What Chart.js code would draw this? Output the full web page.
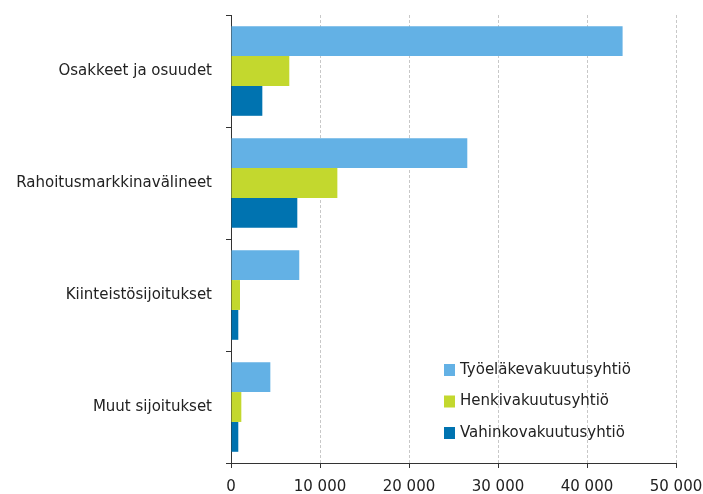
<!DOCTYPE html>
<html>
<head>
<meta charset="utf-8">
<script src="https://cdn.jsdelivr.net/npm/chart.js"></script>
<style>
  html, body { margin: 0; padding: 0; background: #fff; }
  #wrap { width: 703px; height: 494px; }
</style>
</head>
<body>
<div id="wrap"><canvas id="c" width="703" height="494"></canvas></div>
<script>
// Sijoitukset sijoituslajeittain, vakuutusyhtiöt
const categories = ['Osakkeet ja osuudet', 'Rahoitusmarkkinavälineet', 'Kiinteistösijoitukset', 'Muut sijoitukset'];
const seriesNames = ['Työeläkevakuutusyhtiö', 'Henkivakuutusyhtiö', 'Vahinkovakuutusyhtiö'];
const tyoelake = [44000, 26550, 7670, 4420];
const henki = [6550, 11950, 1010, 1160];
const vahinko = [3520, 7450, 820, 820];
const xTicks = [0, 10000, 20000, 30000, 40000, 50000];

const colors = ['#63b1e5', '#c3d82e', '#0073b0'];
const font = { family: 'DejaVu Sans', size: 15 };

// legenda piirretään kuvaajan sisään oikeaan alakulmaan
const insideLegend = {
  id: 'insideLegend',
  afterDraw(chart) {
    const ctx = chart.ctx;
    ctx.save();
    ctx.font = '15px "DejaVu Sans"';
    ctx.textBaseline = 'middle';
    chart.data.datasets.forEach((ds, i) => {
      const y = 370 + i * 31.5;
      ctx.fillStyle = ds.backgroundColor;
      ctx.fillRect(444, y - 6, 11, 12);
      ctx.fillStyle = '#222';
      ctx.fillText(ds.label, 460, y);
    });
    ctx.restore();
  }
};

new Chart(document.getElementById('c'), {
  type: 'bar',
  data: {
    labels: categories,
    datasets: [
      { label: seriesNames[0], data: tyoelake, backgroundColor: colors[0] },
      { label: seriesNames[1], data: henki, backgroundColor: colors[1] },
      { label: seriesNames[2], data: vahinko, backgroundColor: colors[2] }
    ]
  },
  options: {
    indexAxis: 'y',
    responsive: false,
    animation: false,
    categoryPercentage: 0.8,
    barPercentage: 1.0,
    layout: { padding: { top: 15, right: 27, left: 0, bottom: 0 } },
    plugins: { legend: { display: false }, tooltip: { enabled: false } },
    scales: {
      x: {
        min: 0, max: 50000,
        afterBuildTicks(scale) { scale.ticks = xTicks.map(v => ({ value: v })); },
        afterFit(scale) {
          scale.height = 31;
          scale.paddingLeft = 0;
          scale.paddingRight = 0;
        },
        ticks: {
          font, color: '#222', padding: 10, maxRotation: 0,
          callback: v => v === 0 ? '0' : String(v).replace(/\B(?=(\d{3})+(?!\d))/g, ' ')
        },
        grid: { color: '#c8c8c8', tickColor: '#333', tickLength: 5, lineWidth: 1 },
        border: { color: '#333', width: 1, dash: [3, 2] }
      },
      y: {
        afterFit(scale) {
          scale.width = 231;
          scale.paddingTop = 0;
          scale.paddingBottom = 0;
        },
        ticks: { font, color: '#222', padding: 14 },
        grid: { drawOnChartArea: false, tickColor: '#333', tickLength: 5, offset: true },
        border: { color: '#333', width: 1 }
      }
    }
  },
  plugins: [insideLegend]
});
</script>
</body>
</html>
